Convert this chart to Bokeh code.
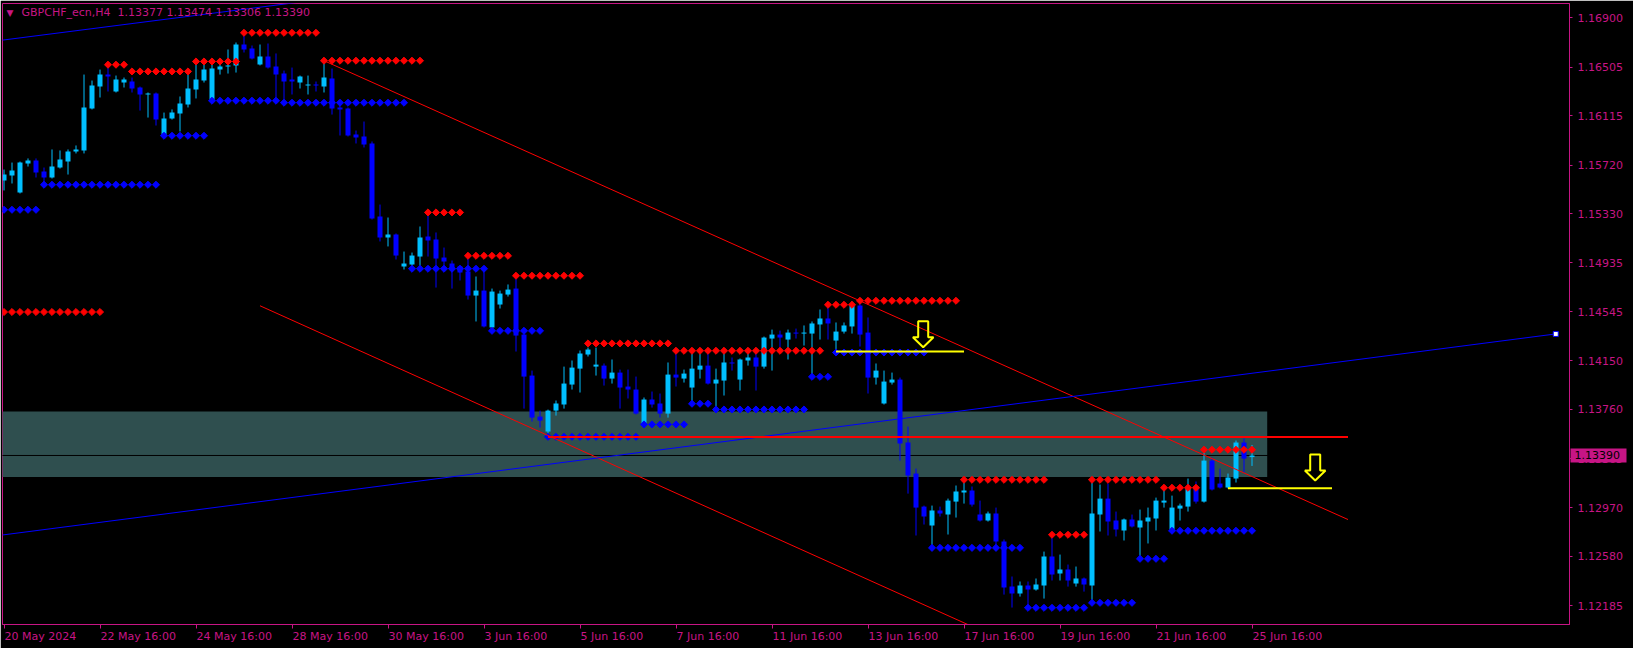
import math
from bokeh.plotting import figure
from bokeh.models import (Range1d, FixedTicker, NumeralTickFormatter, Label, ColumnDataSource,
                          LinearAxis)
from bokeh.embed import file_html
from bokeh.resources import INLINE

# ---------------- data ----------------
symbol_title = "GBPCHF_ecn,H4"
last_quote = ["1.13377", "1.13474", "1.13306", "1.13390"]

date_labels = ["20 May 2024", "22 May 16:00", "24 May 16:00", "28 May 16:00", "30 May 16:00",
               "3 Jun 16:00", "5 Jun 16:00", "7 Jun 16:00", "11 Jun 16:00", "13 Jun 16:00",
               "17 Jun 16:00", "19 Jun 16:00", "21 Jun 16:00", "25 Jun 16:00"]
bars_per_label = 12

price_ticks = [1.16900, 1.16505, 1.16115, 1.15720, 1.15330, 1.14935, 1.14545,
               1.14150, 1.13760, 1.13365, 1.12970, 1.12580, 1.12185]

O = [1.15596, 1.15636, 1.15500, 1.15732, 1.15756, 1.15668, 1.15620, 1.15700, 1.15748, 1.15829,
     1.15837, 1.16174, 1.16350, 1.16446, 1.16310, 1.16382, 1.16390, 1.16342, 1.16286, 1.16294,
     1.15957, 1.16093, 1.16133, 1.16206, 1.16326, 1.16398, 1.16246, 1.16486, 1.16510, 1.16519,
     1.16687, 1.16655, 1.16527, 1.16591, 1.16510, 1.16454, 1.16406, 1.16382, 1.16358, 1.16366,
     1.16350, 1.16414, 1.16182, 1.16174, 1.15965, 1.15949, 1.15893, 1.15307, 1.15139, 1.15163,
     1.14906, 1.14922, 1.14986, 1.15147, 1.15123, 1.14978, 1.14930, 1.14906, 1.14866, 1.14673,
     1.14713, 1.14417, 1.14601, 1.14681, 1.14729, 1.14360, 1.14031, 1.13702, 1.13582, 1.13750,
     1.13799, 1.13959, 1.14087, 1.14200, 1.14103, 1.14111, 1.14007, 1.14055, 1.13943, 1.13919,
     1.13646, 1.13839, 1.13807, 1.13726, 1.14039, 1.14007, 1.13935, 1.14079, 1.14111, 1.13967,
     1.13991, 1.14136, 1.13999, 1.14152, 1.14176, 1.14103, 1.14328, 1.14360, 1.14320, 1.14376,
     1.14368, 1.14368, 1.14441, 1.14489, 1.14312, 1.14384, 1.14425, 1.14593, 1.14376, 1.14015,
     1.13807, 1.13975, 1.13999, 1.13494, 1.13245, 1.12980, 1.12828, 1.12948, 1.12916, 1.13020,
     1.13093, 1.13109, 1.12916, 1.12868, 1.12924, 1.12700, 1.12338, 1.12282, 1.12346, 1.12314,
     1.12346, 1.12579, 1.12443, 1.12475, 1.12363, 1.12403, 1.12346, 1.12916, 1.13044, 1.12868,
     1.12788, 1.12876, 1.12812, 1.12860, 1.12884, 1.13012, 1.12796, 1.12964, 1.12980, 1.13141,
     1.13020, 1.13349, 1.13165, 1.13133, 1.13205, 1.13494, 1.13377]
H = [1.15684, 1.15740, 1.15748, 1.15773, 1.15773, 1.15700, 1.15845, 1.15837, 1.15845, 1.15877,
     1.16446, 1.16398, 1.16486, 1.16527, 1.16438, 1.16422, 1.16422, 1.16350, 1.16302, 1.16302,
     1.16141, 1.16166, 1.16270, 1.16446, 1.16527, 1.16527, 1.16527, 1.16559, 1.16647, 1.16703,
     1.16775, 1.16679, 1.16687, 1.16695, 1.16615, 1.16478, 1.16502, 1.16438, 1.16438, 1.16390,
     1.16543, 1.16494, 1.16222, 1.16182, 1.15997, 1.16069, 1.15909, 1.15403, 1.15299, 1.15171,
     1.15026, 1.15018, 1.15227, 1.15315, 1.15179, 1.15058, 1.14954, 1.14914, 1.14970, 1.14826,
     1.14866, 1.14729, 1.14713, 1.14762, 1.14810, 1.14368, 1.14071, 1.13750, 1.13758, 1.13831,
     1.14103, 1.14152, 1.14232, 1.14256, 1.14256, 1.14128, 1.14160, 1.14079, 1.14079, 1.14023,
     1.13855, 1.13903, 1.13887, 1.14136, 1.14208, 1.14079, 1.14208, 1.14208, 1.14224, 1.14087,
     1.14208, 1.14176, 1.14168, 1.14208, 1.14232, 1.14344, 1.14400, 1.14392, 1.14400, 1.14408,
     1.14433, 1.14465, 1.14561, 1.14585, 1.14457, 1.14457, 1.14625, 1.14633, 1.14497, 1.14128,
     1.14071, 1.14055, 1.14015, 1.13622, 1.13285, 1.12988, 1.12988, 1.12980, 1.13044, 1.13149,
     1.13173, 1.13141, 1.13028, 1.12940, 1.12972, 1.12716, 1.12419, 1.12379, 1.12379, 1.12403,
     1.12619, 1.12748, 1.12595, 1.12515, 1.12499, 1.12411, 1.13173, 1.13157, 1.13165, 1.12940,
     1.12884, 1.12916, 1.12956, 1.12972, 1.13052, 1.13117, 1.13068, 1.13004, 1.13205, 1.13181,
     1.13430, 1.13373, 1.13285, 1.13245, 1.13510, 1.13526, 1.13474]
L = [1.15516, 1.15572, 1.15492, 1.15708, 1.15620, 1.15540, 1.15612, 1.15692, 1.15644, 1.15813,
     1.15813, 1.16166, 1.16262, 1.16310, 1.16302, 1.16342, 1.16302, 1.16157, 1.16101, 1.16037,
     1.15941, 1.16085, 1.15989, 1.16182, 1.16254, 1.16382, 1.16238, 1.16446, 1.16454, 1.16462,
     1.16623, 1.16567, 1.16519, 1.16494, 1.16262, 1.16238, 1.16286, 1.16334, 1.16286, 1.16310,
     1.16302, 1.16125, 1.15957, 1.15949, 1.15893, 1.15861, 1.15283, 1.15107, 1.15067, 1.14962,
     1.14882, 1.14898, 1.14898, 1.14986, 1.14737, 1.14898, 1.14729, 1.14794, 1.14641, 1.14465,
     1.14417, 1.14409, 1.14569, 1.14665, 1.14224, 1.13766, 1.13662, 1.13614, 1.13550, 1.13710,
     1.13766, 1.13919, 1.13895, 1.14184, 1.14031, 1.13951, 1.13967, 1.13766, 1.13847, 1.13718,
     1.13614, 1.13774, 1.13694, 1.13694, 1.13943, 1.13975, 1.13815, 1.14007, 1.13959, 1.13766,
     1.13871, 1.14071, 1.13911, 1.14111, 1.13911, 1.14087, 1.14071, 1.14256, 1.14160, 1.14328,
     1.14272, 1.14039, 1.14320, 1.14320, 1.14208, 1.14368, 1.14368, 1.14264, 1.13887, 1.13959,
     1.13799, 1.13959, 1.13349, 1.13084, 1.12748, 1.12836, 1.12667, 1.12900, 1.12756, 1.12892,
     1.13004, 1.12980, 1.12860, 1.12860, 1.12667, 1.12274, 1.12170, 1.12258, 1.12178, 1.12306,
     1.12242, 1.12387, 1.12387, 1.12338, 1.12338, 1.12298, 1.12226, 1.12780, 1.12748, 1.12740,
     1.12708, 1.12812, 1.12579, 1.12684, 1.12788, 1.12972, 1.12788, 1.12868, 1.12940, 1.13004,
     1.13012, 1.13109, 1.13125, 1.13125, 1.13173, 1.13253, 1.13306]
C = [1.15644, 1.15676, 1.15740, 1.15756, 1.15660, 1.15620, 1.15708, 1.15764, 1.15829, 1.15845,
     1.16182, 1.16358, 1.16446, 1.16430, 1.16406, 1.16406, 1.16334, 1.16286, 1.16294, 1.16085,
     1.16093, 1.16141, 1.16214, 1.16334, 1.16406, 1.16486, 1.16494, 1.16510, 1.16519, 1.16687,
     1.16647, 1.16575, 1.16591, 1.16502, 1.16446, 1.16390, 1.16390, 1.16430, 1.16366, 1.16358,
     1.16422, 1.16174, 1.16166, 1.15957, 1.15941, 1.15885, 1.15291, 1.15139, 1.15163, 1.14994,
     1.14930, 1.14994, 1.15139, 1.15115, 1.14970, 1.14946, 1.14898, 1.14858, 1.14673, 1.14713,
     1.14425, 1.14705, 1.14689, 1.14721, 1.14352, 1.14023, 1.13694, 1.13670, 1.13750, 1.13807,
     1.13967, 1.14095, 1.14208, 1.14240, 1.14119, 1.14007, 1.14055, 1.13935, 1.13919, 1.13726,
     1.13839, 1.13799, 1.13726, 1.14039, 1.14015, 1.14047, 1.14087, 1.14111, 1.13967, 1.13999,
     1.14136, 1.14128, 1.14160, 1.14176, 1.14103, 1.14336, 1.14360, 1.14336, 1.14376, 1.14368,
     1.14376, 1.14449, 1.14489, 1.14449, 1.14384, 1.14433, 1.14593, 1.14360, 1.14015, 1.14071,
     1.13983, 1.13999, 1.13486, 1.13229, 1.12972, 1.12900, 1.12948, 1.12924, 1.13028, 1.13101,
     1.13109, 1.12996, 1.12868, 1.12924, 1.12700, 1.12330, 1.12282, 1.12346, 1.12314, 1.12355,
     1.12579, 1.12435, 1.12475, 1.12387, 1.12403, 1.12355, 1.12924, 1.13044, 1.12860, 1.12796,
     1.12876, 1.12820, 1.12868, 1.12892, 1.13028, 1.13028, 1.12972, 1.12988, 1.13133, 1.13020,
     1.13349, 1.13117, 1.13133, 1.13213, 1.13494, 1.13365, 1.13390]

# fractal resistance (red) and support (blue) levels: first bar, last bar, price
res_start = [0, 13, 16, 24, 30, 40, 53, 58, 64, 73, 84, 103, 107, 120, 131, 136, 145, 150]
res_end   = [12, 15, 23, 29, 39, 52, 57, 63, 72, 83, 102, 106, 119, 130, 135, 144, 149, 156]
res_price = [1.14541, 1.16525, 1.16471, 1.16551, 1.16781, 1.16557, 1.15340, 1.14992, 1.14832,
             1.14289, 1.14230, 1.14599, 1.14631, 1.13195, 1.12754, 1.13195, 1.13131, 1.13436]
sup_start = [0, 5, 20, 26, 35, 51, 61, 68, 80, 86, 89, 101, 104, 116, 128, 136, 142, 146]
sup_end   = [4, 19, 25, 34, 50, 60, 67, 79, 85, 88, 100, 103, 115, 127, 135, 141, 145, 156]
sup_price = [1.15361, 1.15562, 1.15955, 1.16236, 1.16220, 1.14888, 1.14390, 1.13540, 1.13639,
             1.13805, 1.13759, 1.14021, 1.14216, 1.12649, 1.12168, 1.12208, 1.12561, 1.12786]

zone_end_bar = 157.9
zone_low, zone_high = 1.13217, 1.13742
bid_price = 1.13390
hline_start, hline_end, hline_price = 68, 168, 1.13538
red_trend_x = [[40, 168], [32, 125]]
red_trend_y = [[1.16557, 1.12876], [1.14591, 1.11903]]
blue_trend_x = [[-0.21, 40], [-0.21, 193.97]]
blue_trend_y = [[1.16722, 1.17052], [1.12752, 1.14365]]
yellow_start = [104, 153]
yellow_end = [120, 166]
yellow_price = [1.14224, 1.13127]
arrow_bar = [114.9, 163.9]
arrow_tip = [1.14258, 1.13189]

# ---------------- styling / layout ----------------
MAG = "#C71585"
BULL = "#00BFFF"
BEAR = "#0000FF"
FONT = "DejaVu Sans"

FW, FH = 1567, 621
FRAME_L, FRAME_T = 2, 3
X0 = -0.1875
X1 = X0 + FW / 8.0
Y0, Y1 = 1.12034, 1.17016
px_x = (X1 - X0) / FW
px_y = (Y1 - Y0) / FH


def dx(px):
    return X0 + (px - FRAME_L) * px_x


def dy(py):
    return Y1 - (py - FRAME_T) * px_y


p = figure(frame_width=FW, frame_height=FH, x_range=Range1d(X0, X1), y_range=Range1d(Y0, Y1),
           output_backend="svg", toolbar_location=None, y_axis_location="right",
           min_border_left=FRAME_L, min_border_top=FRAME_T, min_border_right=64, min_border_bottom=24,
           background_fill_color="black", border_fill_color="black")
p.grid.visible = False
p.outline_line_color = MAG
p.outline_line_width = 1

n = len(O)
tick_bars = [i * bars_per_label for i in range(len(date_labels))]

# x axis: tick marks on the bar, labels start at the tick (left aligned)
xa = p.xaxis[0]
xa.ticker = FixedTicker(ticks=tick_bars)
xa.major_label_text_alpha = 0
xa.major_label_standoff = 0
xa.major_tick_out = 4

CW = {' ': 0.318, ':': 0.337, 'M': 0.863, 'a': 0.613, 'y': 0.592, 'J': 0.295, 'u': 0.634, 'n': 0.634}
def text_px(s, size=11):
    return size * sum(CW.get(ch, 0.636) for ch in s)

lab_pos = [round(t + (0.5 + text_px(s) / 2) * px_x, 5) for t, s in zip(tick_bars, date_labels)]
xl = LinearAxis(ticker=FixedTicker(ticks=lab_pos),
                major_label_overrides={v: s for v, s in zip(lab_pos, date_labels)},
                axis_line_color=None, major_tick_line_color=None, minor_tick_line_color=None,
                major_tick_out=0, major_tick_in=0, major_label_standoff=1,
                major_label_text_color=MAG, major_label_text_font=FONT, major_label_text_font_size="11px")
p.add_layout(xl, "below")

ya = p.yaxis[0]
ya.ticker = FixedTicker(ticks=price_ticks)
ya.formatter = NumeralTickFormatter(format="0.00000")
ya.major_tick_out = 3
ya.major_label_standoff = 5
for ax in (xa, ya):
    ax.axis_line_color = MAG
    ax.major_tick_line_color = MAG
    ax.minor_tick_line_color = None
    ax.major_tick_in = 0
    ax.major_label_text_color = MAG
    ax.major_label_text_font = FONT
xa.major_label_text_font_size = "0px"
ya.major_label_text_font_size = "11px"

# current-price tag on the price scale (thick tick drawn back over the scale)
tag = LinearAxis(ticker=FixedTicker(ticks=[bid_price]), formatter=NumeralTickFormatter(format="0.00000"),
                 axis_line_color=None, major_tick_line_color=MAG, major_tick_line_width=14,
                 major_tick_line_cap="butt", major_tick_out=-55, major_tick_in=-1,
                 minor_tick_out=-55, minor_tick_in=0, minor_tick_line_color=None,
                 major_label_standoff=-51, major_label_text_color="black",
                 major_label_text_font=FONT, major_label_text_font_size="11px")
p.add_layout(tag, "right")

# zone rectangle
p.quad(left=[X0 - 1], right=[zone_end_bar], bottom=[zone_low], top=[zone_high],
       fill_color="#2F4F4F", line_color=None)
# bid line
p.segment(x0=[X0 - 1], x1=[X1 + 1], y0=[bid_price], y1=[bid_price], line_color="black", line_width=1)

# candles
xs = list(range(n))
minh = px_y
bull = [c >= o for o, c in zip(O, C)]
top = [max(o, c) for o, c in zip(O, C)]
bot = [min(o, c) for o, c in zip(O, C)]
bot = [b if t - b >= minh else t - minh for t, b in zip(top, bot)]
colors = [BULL if b else BEAR for b in bull]
src = ColumnDataSource(dict(x=xs, h=H, l=L, top=top, bot=bot, color=colors))
p.segment(x0="x", x1="x", y0="h", y1="l", line_color="color", line_width=1, source=src)
p.vbar(x="x", width=5 * px_x, top="top", bottom="bot", fill_color="color", line_color=None, source=src)

# fractal levels
def expand(st, en, pr):
    xx, yy = [], []
    for s, e, v in zip(st, en, pr):
        for b in range(s, e + 1):
            xx.append(b)
            yy.append(v)
    return xx, yy

rx, ry = expand(res_start, res_end, res_price)
sx_, sy_ = expand(sup_start, sup_end, sup_price)
p.scatter(rx, ry, marker="square", angle=math.pi / 4, size=5, fill_color="#FF0000", line_color="#FF0000")
p.scatter(sx_, sy_, marker="square", angle=math.pi / 4, size=5, fill_color=BEAR, line_color=BEAR)

# trend lines
p.multi_line(xs=red_trend_x, ys=red_trend_y, line_color="#FF0000", line_width=1)
p.multi_line(xs=blue_trend_x, ys=blue_trend_y, line_color=BEAR, line_width=1)
p.scatter([blue_trend_x[1][1]], [blue_trend_y[1][1]], marker="square", size=5,
          fill_color="white", line_color=BEAR)
p.segment(x0=[hline_start], x1=[hline_end], y0=[hline_price], y1=[hline_price],
          line_color="#FF0000", line_width=2)
p.segment(x0=yellow_start, x1=yellow_end, y0=yellow_price, y1=yellow_price,
          line_color="#FFFF00", line_width=2)

# hollow down arrows (shape template in pixels relative to the tip)
shape = [(0, 0), (10.3, 10), (5, 10), (5, 26), (-5, 26), (-5, 10), (-10.3, 10)]
axs, ays = [], []
for b, t in zip(arrow_bar, arrow_tip):
    axs.append([b + sx * px_x for sx, sy in shape])
    ays.append([t + sy * px_y for sx, sy in shape])
p.patches(axs, ays, fill_color=None, line_color="#FFFF00", line_width=2)

# title
p.add_layout(Label(x=dx(6), y=dy(7.5), text="▼", text_color=MAG, text_font=FONT,
                   text_font_size="9px", text_baseline="top"))
p.add_layout(Label(x=dx(21), y=dy(5.5), text=symbol_title + "\u00a0 " + " ".join(last_quote),
                   text_color=MAG, text_font=FONT, text_font_size="11px", text_baseline="top"))

open("out.html", "w").write(file_html(p, INLINE))
